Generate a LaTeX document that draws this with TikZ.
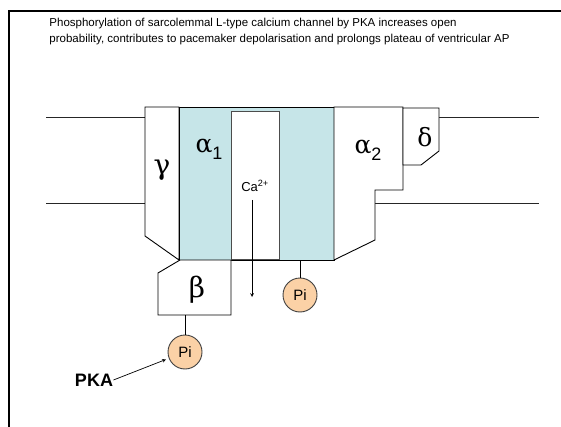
\documentclass[tikz,border=0pt]{standalone}
\usepackage{xcolor}
\usepackage{fontspec}
\usepackage{tikz}
\usetikzlibrary{arrows,positioning,calc}
\setmainfont{Liberation Sans}
\newfontfamily\greekfont{DejaVu Serif}
\definecolor{channel}{RGB}{198,229,232}
\definecolor{phospho}{RGB}{251,209,166}

\begin{document}
\begin{tikzpicture}[x=1pt,y=-1pt,line width=0.9pt,
  subunit/.style={draw=black,fill=white},
  greek/.style={inner sep=0pt,font=\fontsize{25}{25}\greekfont},
  pgroup/.style={circle,draw=black!75,fill=phospho,minimum size=34pt,inner sep=0pt,font=\fontsize{15}{15}\selectfont}]
  \useasboundingbox (0,0) rectangle (561,427);
  % Frame
  \draw[line width=2pt] (9,427) -- (9,11.5) -- (561,11.5);
  \node[anchor=north west,align=left,inner sep=0pt,font=\fontsize{11.5}{15.5}\selectfont] (title) at (49,18)
    {Phosphorylation of sarcolemmal L-type calcium channel by PKA increases open\\
     probability, contributes to pacemaker depolarisation and prolongs plateau of ventricular AP};
  % Membrane
  \draw[black!85] (46,117) -- (145,117);
  \draw[black!85] (46,203) -- (145,203);
  \draw[black!85] (439,117) -- (539,117);
  \draw[black!85] (375,203) -- (539,203);
  % Subunits
  \draw[subunit] (145,107) -- (179,107) -- (179,260) -- (145,236) -- cycle;
  \draw[draw=black,fill=channel] (179,107) rectangle (334,260);
  \draw[draw=black!70,fill=white] (231,111) rectangle (279,259);
  \draw[subunit] (180,260) -- (231,260) -- (231,315) -- (158,315) -- (158,273) -- cycle;
  \draw[subunit] (334,107) -- (403,107) -- (403,190) -- (375,190) -- (375,240) -- (334,260) -- cycle;
  \draw[subunit] (403,108) -- (439,108) -- (439,151) -- (421,165) -- (403,165) -- cycle;
  % Labels
  \node[greek,font=\fontsize{28}{28}\greekfont] (gamma) at (162,170) {γ};
  \node[greek] (alpha1) at (209,149) {α\raisebox{-7pt}{\fontsize{18}{18}\normalfont 1}};
  \node[greek] (alpha2) at (368,150) {α\raisebox{-7pt}{\fontsize{18}{18}\normalfont 2}};
  \node[greek] (delta) at (425,137) {δ};
  \node[greek,font=\fontsize{28}{28}\greekfont] (beta) at (197,290) {β};
  \node[inner sep=0pt,font=\fontsize{13}{13}\selectfont] (ca) at (255,186) {Ca\textsuperscript{2+}};
  % Phosphate groups
  \node[pgroup] (pia) at (300,295) {Pi};
  \node[pgroup] (pib) at (185,352) {Pi};
  \node[inner sep=0pt,font=\fontsize{18}{18}\bfseries] (pka) at (94,380) {PKA};
  \coordinate (abot) at (300,260);
  \coordinate (bbot) at (185,315);
  \coordinate (castart) at (252,200);
  \coordinate (caend) at (252,297);
  % Connectors
  \draw (abot) -- (pia);
  \draw (bbot) -- (pib);
  \draw[->,>=stealth,line width=0.7pt] (castart) -- (caend);
  \draw[->,>=stealth,line width=0.7pt,shorten >=3pt] (pka.east) -- (pib);
\end{tikzpicture}
\end{document}
